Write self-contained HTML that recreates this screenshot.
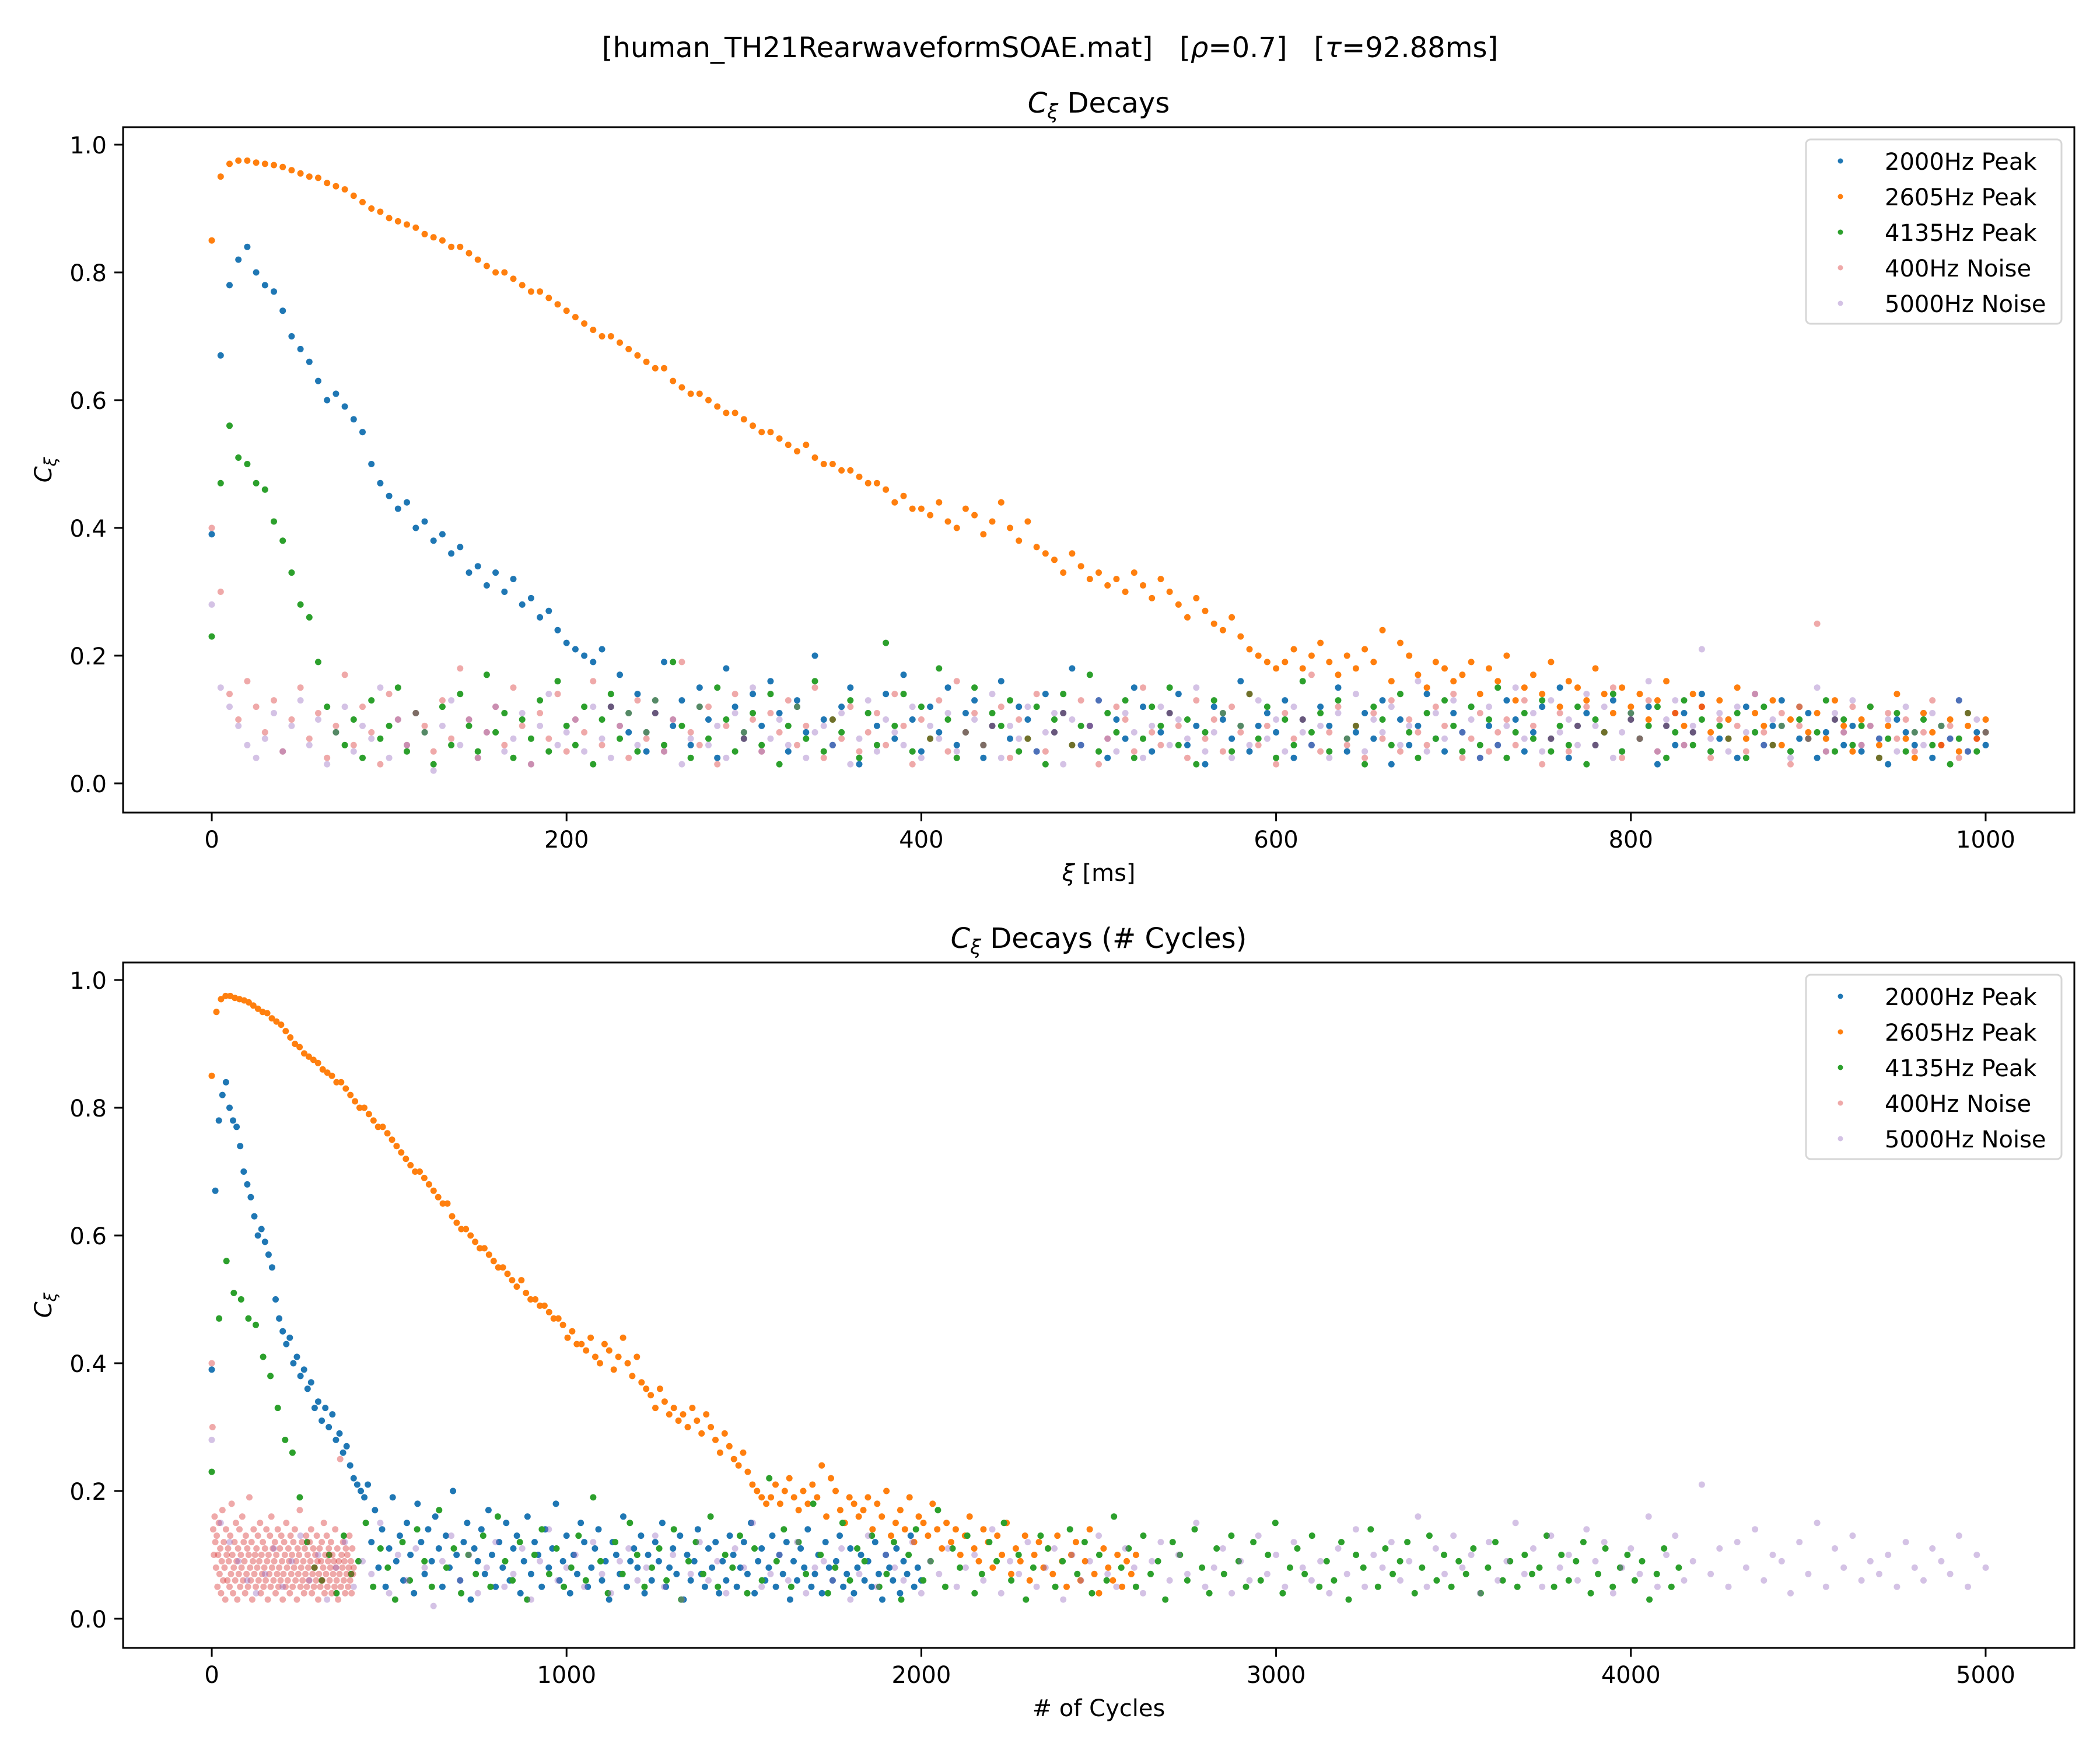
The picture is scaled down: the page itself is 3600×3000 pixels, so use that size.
<!DOCTYPE html>
<html><head><meta charset="utf-8"><style>
body{margin:0;background:#fff}
svg{display:block;font-family:"DejaVu Sans","Liberation Sans",sans-serif}
</style></head><body>
<svg id="fig" width="3600" height="3000" viewBox="0 0 3600 3000" xmlns="http://www.w3.org/2000/svg">
<rect width="3600" height="3000" fill="#fff"/>
<text x="1800" y="98" font-size="48" text-anchor="middle">[human_TH21RearwaveformSOAE.mat]&#160;&#160;&#160;[<tspan font-style="italic">ρ</tspan>=0.7]&#160;&#160;&#160;[<tspan font-style="italic">τ</tspan>=92.88ms]</text>
</svg>
<script>
const STEP = 5;
const seriesNames = ["2000Hz Peak","2605Hz Peak","4135Hz Peak","400Hz Noise","5000Hz Noise"];
const seriesFreqs = [2000,2605,4135,400,5000];
const xTicksTop = [0,200,400,600,800,1000];
const xTicksBottom = [0,1000,2000,3000,4000,5000];
const yTicks = [0.0,0.2,0.4,0.6,0.8,1.0];
const blue = [.39,.67,.78,.82,.84,.80,.78,.77,.74,.70,.68,.66,.63,.60,.61,.59,.57,.55,.50,.47,.45,.43,.44,.40,.41,.38,.39,.36,.37,.33,.34,.31,.33,.30,.32,.28,.29,.26,.27,.24,.22,.21,.20,.19,.21,
.12,.17,.08,.14,.05,.11,.19,.09,.13,.06,.15,.10,.04,.18,.12,.07,.14,.09,.16,.11,
.05,.13,.08,.20,.10,.06,.12,.15,.03,.11,.09,.14,.07,.17,.10,.05,.12,.08,.15,.06,
.11,.13,.04,.09,.16,.07,.12,.10,.05,.14,.08,.11,.18,.06,.09,.13,.04,.10,.07,.15,
.12,.05,.08,.11,.14,.06,.09,.03,.12,.10,.07,.16,.05,.09,.11,.08,.13,.04,.10,.06,
.12,.09,.15,.05,.08,.11,.07,.13,.03,.10,.06,.09,.14,.07,.05,.11,.08,.12,.04,.09,
.06,.13,.10,.05,.08,.12,.07,.15,.04,.09,.11,.06,.08,.13,.05,.10,.07,.12,.03,.09,
.06,.11,.08,.14,.05,.07,.10,.04,.12,.08,.06,.09,.13,.05,.07,.11,.04,.08,.10,.06,
.09,.05,.12,.07,.03,.10,.08,.06,.11,.04,.09,.07,.13,.05,.08,.06];
const orange = [.85,.95,.97,.975,.975,.972,.97,.968,.965,.96,.955,.95,.948,.94,.935,.93,.92,.91,.90,.895,.885,
.88,.875,.87,.86,.855,.85,.84,.84,.83,.82,.81,.80,.80,.79,.78,.77,.77,.76,.75,.74,
.73,.72,.71,.70,.70,.69,.68,.67,.66,.65,.65,.63,.62,.61,.61,.60,.59,.58,.58,.57,
.56,.55,.55,.54,.53,.52,.53,.51,.50,.50,.49,.49,.48,.47,.47,.46,.44,.45,.43,.43,
.42,.44,.41,.40,.43,.42,.39,.41,.44,.40,.38,.41,.37,.36,.35,.33,.36,.34,.32,.33,
.31,.32,.30,.33,.31,.29,.32,.30,.28,.26,.29,.27,.25,.24,.26,.23,.21,.20,.19,.18,
.19,.21,.18,.20,.22,.19,.17,.20,.18,.21,.19,.24,.16,.22,.20,.17,.15,.19,.18,.16,
.17,.19,.14,.18,.16,.20,.13,.15,.17,.14,.19,.12,.16,.15,.13,.18,.14,.11,.15,.12,
.14,.10,.13,.16,.11,.09,.14,.12,.08,.13,.10,.15,.07,.11,.09,.13,.06,.10,.12,.08,
.11,.07,.13,.09,.05,.10,.12,.06,.09,.14,.07,.04,.11,.08,.06,.10,.05,.09,.07,.10];
const green = [.23,.47,.56,.51,.50,.47,.46,.41,.38,.33,.28,.26,.19,.12,.08,
.06,.10,.04,.13,.07,.09,.15,.05,.11,.08,.03,.12,.06,.14,.09,.05,.17,.08,.11,.04,
.10,.07,.13,.05,.16,.09,.06,.12,.03,.10,.14,.07,.11,.05,.08,.13,.06,.19,.09,.04,
.12,.07,.15,.10,.05,.08,.11,.06,.14,.03,.09,.12,.07,.16,.05,.10,.08,.13,.04,.11,
.06,.22,.09,.14,.05,.12,.07,.18,.10,.04,.08,.15,.06,.11,.09,.13,.05,.07,.12,.03,
.10,.14,.06,.09,.17,.05,.11,.08,.13,.04,.07,.12,.09,.15,.06,.10,.03,.08,.13,.11,
.05,.09,.14,.07,.12,.04,.10,.06,.16,.08,.11,.05,.13,.07,.09,.03,.12,.10,.06,.14,
.08,.04,.11,.07,.13,.09,.05,.12,.06,.10,.15,.04,.08,.11,.07,.13,.05,.09,.06,.12,
.03,.10,.08,.14,.05,.11,.07,.09,.12,.04,.08,.13,.06,.10,.05,.09,.07,.11,.04,.08,
.12,.06,.09,.05,.10,.07,
.08,.13,.05,.10,.06,.09,.12,.04,.07,.11,.05,.08,.10,.06,.09,.03,.07,.11,.05,.08];
const pink = [.40,.30,.14,.10,.16,.12,
.08,.13,.05,.10,.15,.07,.11,.04,.09,.17,.06,.12,.08,.03,.14,.10,.06,.11,.09,.05,
.13,.07,.18,.10,.04,.08,.12,.06,.15,.09,.03,.11,.07,.14,.05,.10,.08,.16,.06,.12,
.09,.04,.13,.07,.11,.05,.10,.19,.08,.06,.12,.03,.09,.14,.07,.10,.05,.11,.08,.13,
.06,.09,.15,.04,.10,.07,.12,.05,.08,.11,.06,.14,.09,.03,.10,.07,.13,.05,.16,.08,
.11,.06,.09,.12,.04,.10,.07,.14,.05,.08,.11,.06,.13,.09,.03,.07,.12,.10,.05,.15,
.08,.06,.11,.09,.04,.13,.07,.10,.05,.12,.08,.14,.06,.09,.03,.11,.07,.10,.17,.05,
.08,.12,.06,.09,.04,.11,.07,.13,.05,.10,.08,.06,.12,.09,.14,.04,.07,.11,.05,.08,
.10,.06,.13,.09,.03,.07,.11,.05,.09,.12,.06,.08,.15,.04,.10,.07,.13,.05,.09,.11,
.06,.08,.12,.04,.10,.07,.09,.05,.14,.08,.06,.11,.03,.09,.07,.25,.05,.10,.08,.12,
.06,.09,.04,.11,.07,
.10,.05,.08,.13,.06,.09,.04,.11,.07,.08];
const purple = [.28,.15,.12,.09,.06,.04,
.07,.11,.05,.09,.13,.06,.10,.03,.08,.12,.05,.09,.07,.15,.04,.10,.06,.11,.08,.02,
.09,.13,.06,.10,.04,.08,.12,.05,.07,.11,.03,.09,.14,.06,.08,.10,.05,.12,.07,.04,
.09,.11,.06,.08,.13,.05,.10,.03,.07,.12,.06,.09,.04,.11,.08,.15,.05,.07,.10,.06,
.12,.04,.08,.09,.06,.11,.03,.07,.13,.05,.10,.08,.06,.12,.04,.09,.07,.11,.05,.08,
.10,.06,.14,.04,.09,.07,.12,.05,.08,.11,.03,.10,.06,.09,.13,.07,.05,.11,.08,.04,
.09,.12,.06,.10,.07,.15,.05,.08,.11,.04,.09,.06,.13,.07,.10,.05,.12,.08,.06,.09,
.04,.11,.07,.14,.05,.10,.08,.12,.06,.09,.16,.05,.11,.07,.13,.08,.10,.04,.12,.06,
.09,.15,.07,.11,.05,.13,.08,.10,.06,.14,.09,.12,.04,.08,.11,.07,.16,.05,.10,.13,
.06,.09,.21,.07,.11,.05,.12,.08,.14,.06,.10,.09,.04,.12,.07,.15,.05,.11,.08,.13,
.06,.09,.07,.10,.05,
.12,.08,.06,.11,.09,.07,.13,.05,.10,.08];

const seriesValues = [blue, orange, green, pink, purple];
const colors = ["#1f77b4","#ff7f0e","#2ca02c","#d62728","#9467bd"];
const alphas = [1,1,1,0.4,0.4];
const NS = "http://www.w3.org/2000/svg";
const svg = document.getElementById("fig");
function el(tag, attrs, parent){
  const e = document.createElementNS(NS, tag);
  for (const k in attrs) e.setAttribute(k, attrs[k]);
  (parent||svg).appendChild(e);
  return e;
}
const L = 211, R = 3556;
function drawPanel(top, xmin, xmax, xTicks, useCycles, titleText, xlabelText, prefix){
  const bottom = top + 1175;
  const ymin = -0.0457, ymax = 1.0274;
  const sx = v => L + (v - xmin) / (xmax - xmin) * (R - L);
  const sy = v => bottom - (v - ymin) / (ymax - ymin) * (bottom - top);
  const g = el("g", {});
  
  
  const clipId = prefix + "-clip";
  const cp = el("clipPath", {id: clipId}, g);
  el("rect", {x: L, y: top, width: R - L, height: bottom - top}, cp);
  const pts = el("g", {"clip-path": "url(#" + clipId + ")"}, g);
  
  
  seriesValues.forEach((vals, s) => {
    const sg = el("g", {fill: colors[s], "fill-opacity": alphas[s]}, pts);
    
    
    vals.forEach((v, i) => {
      const xi = i * STEP;
      const xv = useCycles ? xi * seriesFreqs[s] / 1000 : xi;
      const c = el("circle", {cx: sx(xv).toFixed(1), cy: sy(v).toFixed(1), r: 5.5}, sg);
      
      
    });
  });
  const frame = el("rect", {x: L, y: top, width: R - L, height: bottom - top, fill: "none", stroke: "#000", "stroke-width": 3}, g);
  
  
  xTicks.forEach(t => {
    const x = sx(t);
    el("line", {x1: x, x2: x, y1: bottom, y2: bottom + 15, stroke: "#000", "stroke-width": 3}, g);
    const tx = el("text", {x: x, y: bottom + 60, "font-size": 40, "text-anchor": "middle"}, g);
    tx.textContent = String(t);
    
    
  });
  yTicks.forEach(t => {
    const y = sy(t);
    el("line", {x1: L - 15, x2: L, y1: y, y2: y, stroke: "#000", "stroke-width": 3}, g);
    const tx = el("text", {x: L - 28, y: y + 15, "font-size": 40, "text-anchor": "end"}, g);
    tx.textContent = t.toFixed(1);
    
    
  });
  const title = el("text", {x: (L + R) / 2, y: top - 25, "font-size": 48, "text-anchor": "middle"}, g);
  title.innerHTML = '<tspan font-style="italic">C</tspan><tspan font-style="italic" font-size="34" dy="10">ξ</tspan><tspan dy="-10"> ' + titleText + '</tspan>';
  
  
  const xl = el("text", {x: (L + R) / 2, y: bottom + 117, "font-size": 40, "text-anchor": "middle"}, g);
  xl.innerHTML = xlabelText;
  
  
  const cy = (top + bottom) / 2;
  const yl = el("text", {x: 0, y: 0, "font-size": 40, "text-anchor": "middle", transform: "translate(88," + cy + ") rotate(-90)"}, g);
  yl.innerHTML = '<tspan font-style="italic">C</tspan><tspan font-style="italic" font-size="28" dy="8">ξ</tspan>';
  
  
  const lg = el("g", {}, g);
  
  
  el("rect", {x: 3096, y: top + 21, width: 438, height: 316, rx: 8, fill: "#fff", "fill-opacity": 0.8, stroke: "#d6d6d6", "stroke-width": 3}, lg);
  seriesNames.forEach((n, s) => {
    const y = top + 58 + s * 61;
    const en = el("g", {}, lg);
    
    
    el("circle", {cx: 3155, cy: y, r: 4.5, fill: colors[s], "fill-opacity": alphas[s]}, en);
    const t = el("text", {x: 3231, y: y + 15, "font-size": 40}, en);
    t.textContent = n;
  });
}
drawPanel(218, -50, 1050, xTicksTop, false, "Decays", '<tspan font-style="italic">ξ</tspan> [ms]', "top");
drawPanel(1650, -250, 5250, xTicksBottom, true, "Decays (# Cycles)", "# of Cycles", "bottom");
</script>
</body></html>
